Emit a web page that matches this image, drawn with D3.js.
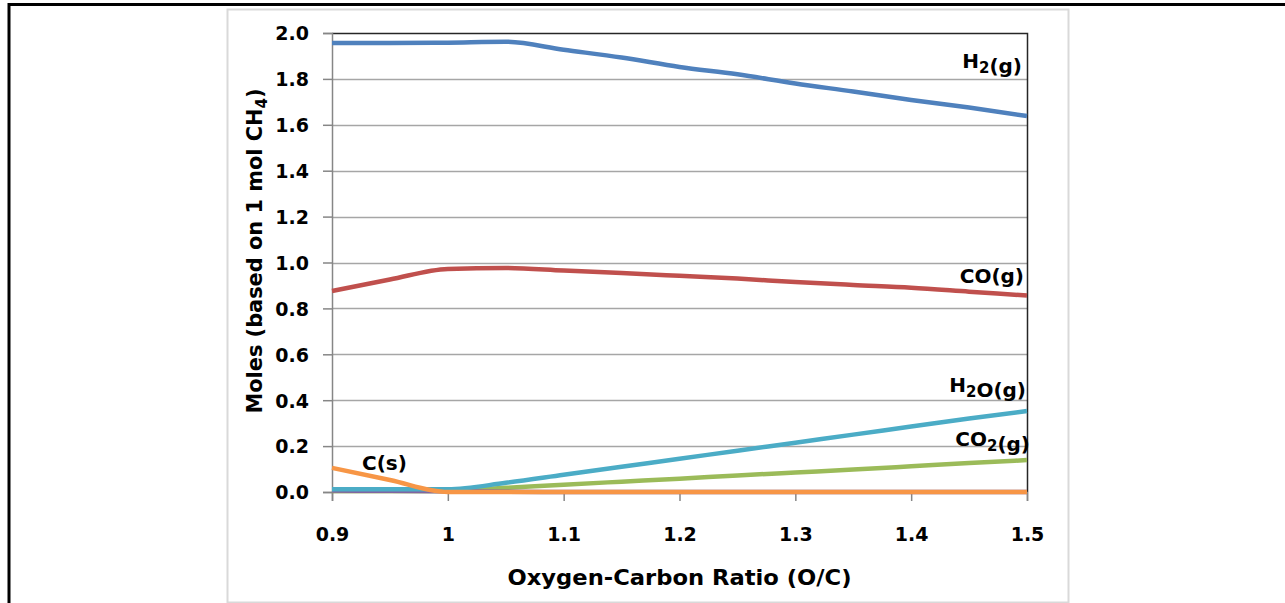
<!DOCTYPE html>
<html>
<head>
<meta charset="utf-8">
<script src="https://cdn.jsdelivr.net/npm/d3@7/dist/d3.min.js"></script>
<style>
  html, body { margin: 0; padding: 0; background: #fff; }
  svg text { font-family: "DejaVu Sans", sans-serif; font-weight: bold; fill: #000; }
</style>
</head>
<body>
<svg id="chart" width="1285" height="603"></svg>
<script>
// Oxygen-carbon ratio sweep
const ratios = [0.9, 0.95, 1.0, 1.05, 1.1, 1.15, 1.2, 1.25, 1.3, 1.35, 1.4, 1.45, 1.5];

// Equilibrium moles per 1 mol CH4
const h2  = [1.956, 1.956, 1.958, 1.962, 1.927, 1.893, 1.852, 1.820, 1.780, 1.745, 1.708, 1.675, 1.638];
const co  = [0.876, 0.926, 0.972, 0.976, 0.965, 0.954, 0.942, 0.930, 0.915, 0.902, 0.890, 0.873, 0.856];
const co2 = [0.004, 0.004, 0.005, 0.018, 0.032, 0.045, 0.058, 0.072, 0.085, 0.098, 0.112, 0.126, 0.139];
const ch4 = [0.006, 0.005, 0.003, 0.001, 0, 0, 0, 0, 0, 0, 0, 0, 0];
const h2o = [0.012, 0.012, 0.012, 0.040, 0.075, 0.110, 0.145, 0.180, 0.215, 0.250, 0.285, 0.320, 0.353];
const cs  = [0.105, 0.052, 0.000, 0, 0, 0, 0, 0, 0, 0, 0, 0, 0];

const xTicks = [0.9, 1.0, 1.1, 1.2, 1.3, 1.4, 1.5];
const xTickLabels = ["0.9", "1", "1.1", "1.2", "1.3", "1.4", "1.5"];
const yTicks = [0, 0.2, 0.4, 0.6, 0.8, 1.0, 1.2, 1.4, 1.6, 1.8, 2.0];

// draw order: later series sit on top
const series = [
  { name: "H2",  values: h2,  color: "#4F81BD" },
  { name: "CO",  values: co,  color: "#C0504D" },
  { name: "CO2", values: co2, color: "#9BBB59" },
  { name: "CH4", values: ch4, color: "#8064A2" },
  { name: "H2O", values: h2o, color: "#4BACC6" },
  { name: "C",   values: cs,  color: "#F79646" }
];

const svg = d3.select("#chart");

// page frame lines
svg.append("line").attr("x1", 9).attr("x2", 9).attr("y1", 3).attr("y2", 603)
  .attr("stroke", "#000").attr("stroke-width", 3);
svg.append("line").attr("x1", 8).attr("x2", 1285).attr("y1", 4.5).attr("y2", 4.5)
  .attr("stroke", "#000").attr("stroke-width", 3);

// chart area border
svg.append("rect").attr("x", 227.5).attr("y", 9.5).attr("width", 841).attr("height", 593)
  .attr("fill", "#fff").attr("stroke", "#d9d9d9").attr("stroke-width", 2);

const plotLeft = 332, plotRight = 1027, plotTop = 33, plotBottom = 492;
const x = d3.scaleLinear().domain([0.9, 1.5]).range([plotLeft, plotRight]);
const y = d3.scaleLinear().domain([0, 2.0]).range([plotBottom, plotTop]);

// horizontal gridlines
svg.append("g").selectAll("line").data(yTicks.slice(1, -1)).join("line")
  .attr("x1", plotLeft).attr("x2", plotRight)
  .attr("y1", d => Math.round(y(d)) + 0.5).attr("y2", d => Math.round(y(d)) + 0.5)
  .attr("stroke", "#a6a6a6").attr("stroke-width", 1.5);

// plot area top and right edges
svg.append("path")
  .attr("d", `M${plotLeft},${plotTop + 0.5}H${plotRight + 0.5}V${plotBottom}`)
  .attr("fill", "none").attr("stroke", "#262626").attr("stroke-width", 1.5);

// y axis
const yAxis = d3.axisLeft(y).tickValues(yTicks).tickFormat(d3.format(".1f")).tickSize(9).tickPadding(14);
const gy = svg.append("g").attr("transform", `translate(${plotLeft},0)`).call(yAxis);
gy.select(".domain").attr("stroke", "#868686").attr("stroke-width", 1.5);
gy.selectAll(".tick line").attr("stroke", "#868686").attr("stroke-width", 1.5);
gy.selectAll(".tick text").style("font-size", "19px").attr("dy", "0.36em");

// x axis
const xAxis = d3.axisBottom(x).tickValues(xTicks).tickFormat((d, i) => xTickLabels[i]).tickSize(9).tickPadding(27);
const gx = svg.append("g").attr("transform", `translate(0,${plotBottom})`).call(xAxis);
gx.select(".domain").attr("stroke", "#868686").attr("stroke-width", 1.5);
gx.selectAll(".tick line").attr("stroke", "#868686").attr("stroke-width", 1.5);
gx.selectAll(".tick text").style("font-size", "19px");

// series lines
const line = d3.line()
  .x((d, i) => x(ratios[i]))
  .y(d => y(d))
  .curve(d3.curveMonotoneX);

svg.append("g").selectAll("path").data(series).join("path")
  .attr("d", s => line(s.values))
  .attr("fill", "none")
  .attr("stroke", s => s.color)
  .attr("stroke-width", 4.5)
  .attr("stroke-linejoin", "round");

// series labels with subscripts
function label(parts, xPos, yPos, anchor) {
  const t = svg.append("text").attr("x", xPos).attr("y", yPos)
    .attr("text-anchor", anchor).style("font-size", "20px");
  parts.forEach(p => {
    if (p.sub) {
      t.append("tspan").text(p.text).attr("dy", 5).style("font-size", "15px");
      t.append("tspan").text("").attr("dy", -5);
    } else {
      t.append("tspan").text(p.text);
    }
  });
  return t;
}

label([{ text: "H" }, { text: "2", sub: true }, { text: "(g)" }], 1022, 68, "end");
label([{ text: "CO(g)" }], 1024, 283, "end");
label([{ text: "H" }, { text: "2", sub: true }, { text: "O(g)" }], 1026, 392, "end");
label([{ text: "CO" }, { text: "2", sub: true }, { text: "(g)" }], 1030, 446, "end");
label([{ text: "C(s)" }], 362, 470, "start");

// axis titles
svg.append("text").attr("x", (plotLeft + plotRight) / 2).attr("y", 585)
  .attr("text-anchor", "middle").style("font-size", "21px")
  .attr("textLength", 344).attr("lengthAdjust", "spacingAndGlyphs")
  .text("Oxygen-Carbon Ratio (O/C)");

const yt = svg.append("text")
  .attr("transform", `translate(262,251) rotate(-90)`)
  .attr("text-anchor", "middle").style("font-size", "21px")
  .attr("textLength", 325).attr("lengthAdjust", "spacingAndGlyphs");
yt.append("tspan").text("Moles (based on 1 mol CH");
yt.append("tspan").text("4").attr("dy", 5).style("font-size", "15px");
yt.append("tspan").text(")").attr("dy", -5);
</script>
</body>
</html>
